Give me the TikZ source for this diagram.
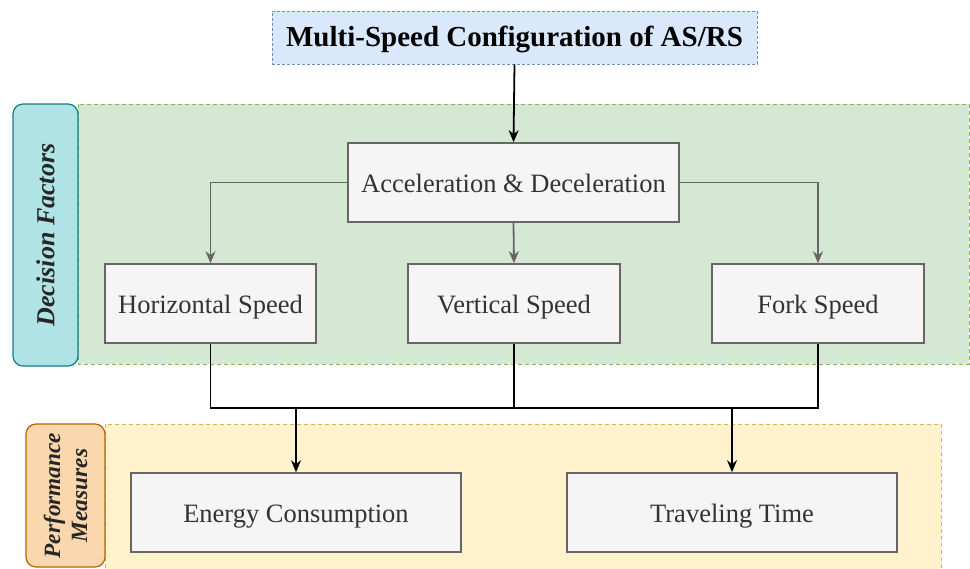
\documentclass[tikz,border=0pt]{standalone}
\usepackage{fontspec}
\setmainfont{Liberation Serif}
\usetikzlibrary{arrows.meta}
\definecolor{boxfill}{HTML}{F5F5F5}
\definecolor{boxline}{HTML}{666666}
\definecolor{boxtext}{HTML}{333333}
\definecolor{titlefill}{HTML}{DAE8FC}
\definecolor{titleline}{HTML}{6C8EBF}
\definecolor{greenfill}{HTML}{D5E8D4}
\definecolor{greenline}{HTML}{82B366}
\definecolor{yellowfill}{HTML}{FFF2CC}
\definecolor{yellowline}{HTML}{D6B656}
\definecolor{tealfill}{HTML}{B0E3E6}
\definecolor{tealline}{HTML}{0E8088}
\definecolor{orangefill}{HTML}{FAD7AC}
\definecolor{orangeline}{HTML}{B46504}
\tikzset{
  region/.style={dashed, dash pattern=on 4pt off 3pt, line width=0.9pt},
  stepbox/.style={draw=boxline, fill=boxfill, text=boxtext, line width=1.6pt,
    font=\fontsize{26.5}{30}\selectfont, text height=20pt, text depth=0pt},
  sidelabel/.style={rounded corners=10pt, line width=1.2pt, rotate=90, align=center,
    text=black!85},
  blackarrow/.style={line width=1.8pt, -{Stealth[length=12pt,width=10pt]}},
  grayarrow/.style={draw=boxline, line width=1.8pt, -{Stealth[length=12pt,width=10pt]}},
  busline/.style={line width=1.8pt},
}
\begin{document}
\begin{tikzpicture}[x=1pt, y=-1pt]
\useasboundingbox (0,0) rectangle (970,569);
\clip (0,0) rectangle (970,569);

% background groups
\draw[region, draw=greenline, fill=greenfill] (78,104) rectangle (969,364);
\draw[region, draw=yellowline, fill=yellowfill] (105,424) rectangle (941,575);

% side labels
\node[sidelabel, draw=tealline, fill=tealfill, minimum width=262pt, minimum height=65pt,
  font=\fontsize{26}{30}\bfseries\itshape] (df) at (45.5,235) {Decision Factors};
\node[sidelabel, draw=orangeline, fill=orangefill, minimum width=143pt, minimum height=79pt,
  font=\fontsize{23.3}{27}\bfseries\itshape] (pm) at (65.5,495.5) {Performance\\Measures};

% title
\node[draw=titleline, fill=titlefill, dashed, dash pattern=on 3pt off 2pt, line width=0.9pt,
  minimum width=485pt, minimum height=53pt, text height=19pt, text depth=0pt,
  font=\fontsize{29}{33}\bfseries\selectfont]
  (title) at (514.5,37.5) {Multi-Speed Configuration of AS/RS};

% boxes
\node[stepbox, minimum width=331pt, minimum height=79pt] (acc) at (513.5,182.5) {Acceleration \& Deceleration};
\node[stepbox, minimum width=211pt, minimum height=79pt] (hs) at (210.5,303.5) {Horizontal Speed};
\node[stepbox, minimum width=212pt, minimum height=79pt] (vs) at (514,303.5) {Vertical Speed};
\node[stepbox, minimum width=212pt, minimum height=79pt] (fs) at (818,303.5) {Fork Speed};
\node[stepbox, minimum width=330pt, minimum height=79pt] (ec) at (296,512.5) {Energy Consumption};
\node[stepbox, minimum width=330pt, minimum height=79pt] (tt) at (732,512.5) {Traveling Time};

% connectors
\draw[blackarrow] (title.south) -- (acc.north);
\draw[grayarrow] (acc.west) -| (hs.north);
\draw[grayarrow] (acc.south) -- (vs.north);
\draw[grayarrow] (acc.east) -| (fs.north);

\coordinate (busL) at (210.5,408);
\coordinate (busR) at (818,408);
\draw[busline] (hs.south) -- (busL) -- (busR) -- (fs.south);
\draw[busline] (vs.south) -- (vs.south |- busL);
\draw[blackarrow] (ec.north |- busL) -- (ec.north);
\draw[blackarrow] (tt.north |- busL) -- (tt.north);
\end{tikzpicture}
\end{document}
